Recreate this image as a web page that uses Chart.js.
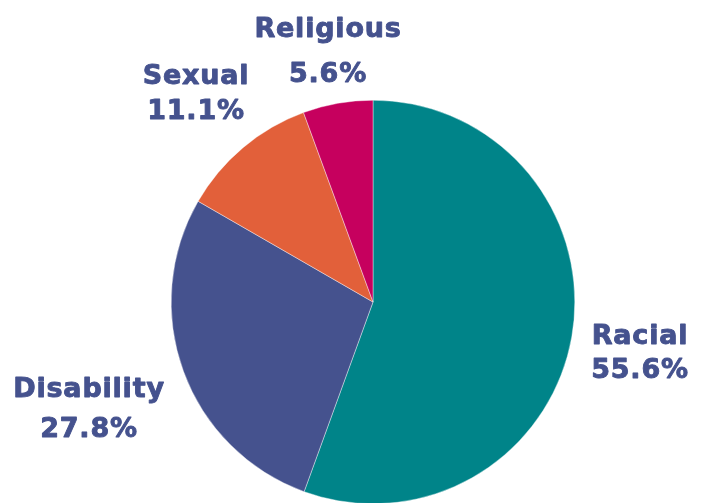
<!DOCTYPE html>
<html>
<head>
<meta charset="utf-8">
<script src="https://cdn.jsdelivr.net/npm/chart.js@4/dist/chart.umd.min.js"></script>
<style>
  html, body { margin: 0; padding: 0; background: #ffffff; overflow: hidden; }
  #wrap { position: relative; width: 702px; height: 506px; }
</style>
</head>
<body>
<div id="wrap"><canvas id="c"></canvas></div>
<script>
const categories = ["Racial", "Disability", "Sexual", "Religious"];
const shares = [55.6, 27.8, 11.1, 5.6];
const percentLabels = ["55.6%", "27.8%", "11.1%", "5.6%"];
const sliceColors = ["#008489", "#45528E", "#E2603A", "#C6005E"];

// label placement (centre x, baseline of line 1, baseline of line 2)
const labelPlacement = [
  { x: 640, y1: 344, y2: 378 },
  { x: 89,  y1: 397, y2: 437 },
  { x: 196, y1: 84,  y2: 119 },
  { x: 328, y1: 37,  y2: 82 }
];

const labelPlugin = {
  id: 'sliceLabels',
  afterDraw(chart) {
    const ctx = chart.ctx;
    ctx.save();
    ctx.fillStyle = '#45528E';
    ctx.strokeStyle = '#45528E';
    ctx.lineWidth = 0.9;
    ctx.lineJoin = 'round';
    ctx.font = 'bold 27px "DejaVu Sans", sans-serif';
    if ('letterSpacing' in ctx) ctx.letterSpacing = '0.8px';
    ctx.textAlign = 'center';
    ctx.textBaseline = 'alphabetic';
    categories.forEach((name, i) => {
      const p = labelPlacement[i];
      ctx.fillText(name, p.x, p.y1);
      ctx.strokeText(name, p.x, p.y1);
      ctx.fillText(percentLabels[i], p.x, p.y2);
      ctx.strokeText(percentLabels[i], p.x, p.y2);
    });
    ctx.restore();
  }
};

new Chart(document.getElementById('c'), {
  type: 'pie',
  data: {
    labels: categories,
    datasets: [{
      data: shares,
      backgroundColor: sliceColors,
      borderColor: '#ffffff',
      borderWidth: 0.4
    }]
  },
  options: {
    responsive: true,
    maintainAspectRatio: false,
    animation: false,
    layout: { padding: { top: 100, bottom: 2, left: 171, right: 127 } },
    plugins: {
      legend: { display: false },
      tooltip: { enabled: false }
    }
  },
  plugins: [labelPlugin]
});
</script>
</body>
</html>
